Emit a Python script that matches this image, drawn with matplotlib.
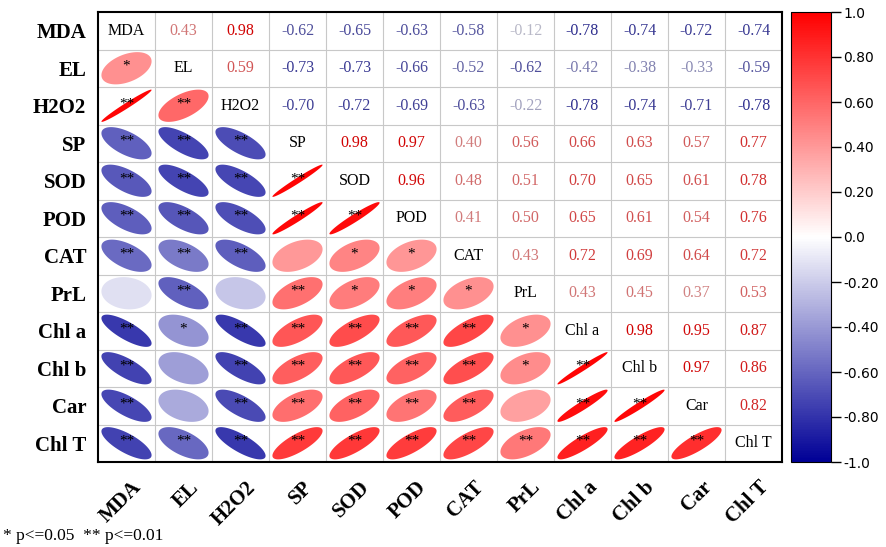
import numpy as np
import matplotlib
matplotlib.use("Agg")
import matplotlib.pyplot as plt
from matplotlib.colors import LinearSegmentedColormap, Normalize
from matplotlib.patches import Polygon
from matplotlib.transforms import ScaledTranslation
import matplotlib.cm as cm

labels = ["MDA", "EL", "H2O2", "SP", "SOD", "POD", "CAT", "PrL",
          "Chl a", "Chl b", "Car", "Chl T"]

# upper triangle, row by row (values to the right of the diagonal)
upper = [
    [0.43, 0.98, -0.62, -0.65, -0.63, -0.58, -0.12, -0.78, -0.74, -0.72, -0.74],
    [0.59, -0.73, -0.73, -0.66, -0.52, -0.62, -0.42, -0.38, -0.33, -0.59],
    [-0.70, -0.72, -0.69, -0.63, -0.22, -0.78, -0.74, -0.71, -0.78],
    [0.98, 0.97, 0.40, 0.56, 0.66, 0.63, 0.57, 0.77],
    [0.96, 0.48, 0.51, 0.70, 0.65, 0.61, 0.78],
    [0.41, 0.50, 0.65, 0.61, 0.54, 0.76],
    [0.43, 0.72, 0.69, 0.64, 0.72],
    [0.43, 0.45, 0.37, 0.53],
    [0.98, 0.95, 0.87],
    [0.97, 0.86],
    [0.82],
]

# significance marks, lower triangle row by row (left of the diagonal)
sig = [
    [],
    ["*"],
    ["**", "**"],
    ["**", "**", "**"],
    ["**", "**", "**", "**"],
    ["**", "**", "**", "**", "**"],
    ["**", "**", "**", "", "*", "*"],
    ["", "**", "", "**", "*", "*", "*"],
    ["**", "*", "**", "**", "**", "**", "**", "*"],
    ["**", "", "**", "**", "**", "**", "**", "*", "**"],
    ["**", "", "**", "**", "**", "**", "**", "", "**", "**"],
    ["**", "**", "**", "**", "**", "**", "**", "**", "**", "**", "**"],
]

n = len(labels)
R = np.eye(n)
for i, row in enumerate(upper):
    for k, v in enumerate(row):
        j = i + 1 + k
        R[i, j] = v
        R[j, i] = v

cmap = LinearSegmentedColormap.from_list("bwr2", ["#000096", "#FFFFFF", "#FF0000"])
norm = Normalize(-1, 1)

serif = "Liberation Serif"

fig = plt.figure(figsize=(8.86, 5.47), dpi=100)
ax = fig.add_axes([98 / 886, 1 - 462 / 547, 684 / 886, 450 / 547])
ax.set_xlim(0, n)
ax.set_ylim(0, n)

for k in range(1, n):
    ax.axhline(k, color="#C8C8C8", lw=0.8, zorder=0)
    ax.axvline(k, color="#C8C8C8", lw=0.8, zorder=0)

t = np.linspace(0, 2 * np.pi, 120)
for i in range(n):
    for j in range(n):
        cx = j + 0.5
        cy = n - 1 - i + 0.5
        r = R[i, j]
        if i == j:
            ax.text(cx, cy, labels[i], ha="center", va="center",
                    family=serif, fontsize=11.5, color="black")
        elif j > i:
            c = np.array(cmap(norm(r))[:3]) * 0.82
            ax.text(cx, cy, "%.2f" % r, ha="center", va="center",
                    family=serif, fontsize=11.5, color=c)
        else:
            d = np.arccos(np.clip(r, -0.999, 0.999))
            ex = np.cos(t + d / 2) * 0.44 + cx
            ey = np.cos(t - d / 2) * 0.43 + cy
            ax.add_patch(Polygon(np.column_stack([ex, ey]), closed=True,
                                 facecolor=cmap(norm(r)), edgecolor="none",
                                 zorder=2))
            s = sig[i][j]
            if s:
                ax.text(cx, cy + 0.05, s, ha="center", va="center", family=serif,
                        fontsize=11, color="black", zorder=3)

ax.set_xticks(np.arange(n) + 0.5)
ax.set_xticklabels(labels, rotation=45, rotation_mode="anchor", ha="right",
                   va="top", family=serif, fontweight="bold", fontsize=15)
ax.set_yticks(n - 1 - np.arange(n) + 0.5)
ax.set_yticklabels(labels, family=serif, fontweight="bold", fontsize=15)
ax.tick_params(axis="both", length=0)
ax.tick_params(axis="y", pad=8.5)
ax.tick_params(axis="x", pad=11)
shift = ScaledTranslation(5 / 100, 0, fig.dpi_scale_trans)
for lab in ax.get_xticklabels():
    lab.set_transform(lab.get_transform() + shift)
for sp in ax.spines.values():
    sp.set_linewidth(1.5)
    sp.set_color("black")

cax = fig.add_axes([791 / 886, 1 - 462 / 547, 40 / 886, 450 / 547])
sm = cm.ScalarMappable(norm=norm, cmap=cmap)
cb = fig.colorbar(sm, cax=cax, ticks=np.linspace(-1, 1, 11))
cb.ax.set_yticklabels(["-1.0", "-0.80", "-0.60", "-0.40", "-0.20", "0.0",
                       "0.20", "0.40", "0.60", "0.80", "1.0"])
cb.ax.tick_params(length=7, width=1, labelsize=10, pad=2)
cb.outline.set_linewidth(0.8)

fig.text(0.003, 1 - 540 / 547, "* p<=0.05  ** p<=0.01", family=serif,
         fontsize=12.5, va="baseline")

fig.savefig("out.png", dpi=100)
